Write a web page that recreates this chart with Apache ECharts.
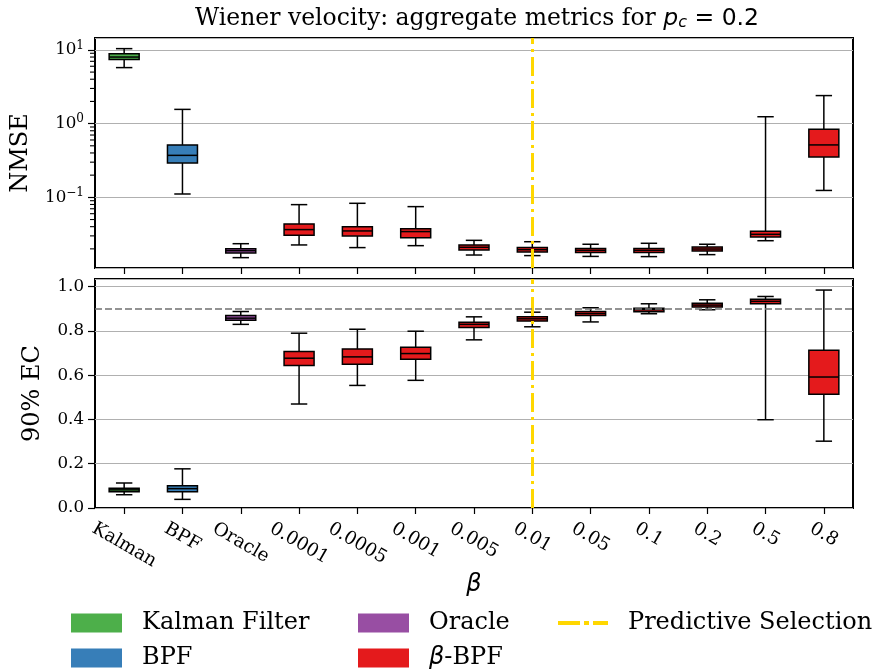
<!DOCTYPE html>
<html>
<head>
<meta charset="utf-8">
<script src="https://cdn.jsdelivr.net/npm/echarts@6/dist/echarts.min.js"></script>
<style>
  html, body { margin: 0; padding: 0; background: #fff; }
  #chart { width: 880px; height: 672px; }
</style>
</head>
<body>
<div id="chart"></div>
<script>
var categories = ['Kalman', 'BPF', 'Oracle', '0.0001', '0.0005', '0.001', '0.005', '0.01', '0.05', '0.1', '0.2', '0.5', '0.8'];
var groups = ['Kalman Filter', 'BPF', 'Oracle', '\u03b2-BPF'];
var groupColors = ['#4daf4a', '#377eb8', '#984ea3', '#e41a1c'];
// which group each category belongs to
var groupOfCategory = [0, 1, 2, 3, 3, 3, 3, 3, 3, 3, 3, 3, 3];

// [low whisker, q1, median, q3, high whisker]
var nmseBoxes = [
    [5.75, 7.4, 8.0, 8.9, 10.4],
    [0.111, 0.293, 0.371, 0.514, 1.56],
    [0.0152, 0.0176, 0.0189, 0.0201, 0.0235],
    [0.0226, 0.0305, 0.0365, 0.0436, 0.0796],
    [0.0208, 0.030, 0.035, 0.040, 0.083],
    [0.0221, 0.0284, 0.0343, 0.0376, 0.0748],
    [0.0165, 0.0193, 0.021, 0.0226, 0.0261],
    [0.0162, 0.0182, 0.0195, 0.0208, 0.025],
    [0.0158, 0.0178, 0.0191, 0.0203, 0.0231],
    [0.0157, 0.0179, 0.0191, 0.0203, 0.0238],
    [0.0167, 0.0187, 0.0199, 0.0212, 0.0231],
    [0.0258, 0.029, 0.0315, 0.0346, 1.24],
    [0.124, 0.353, 0.514, 0.837, 2.40]
];
var ecBoxes = [
    [0.060, 0.073, 0.082, 0.089, 0.113],
    [0.039, 0.074, 0.0875, 0.100, 0.177],
    [0.830, 0.848, 0.858, 0.870, 0.888],
    [0.470, 0.644, 0.677, 0.707, 0.790],
    [0.554, 0.650, 0.683, 0.719, 0.808],
    [0.577, 0.672, 0.698, 0.727, 0.799],
    [0.760, 0.816, 0.830, 0.840, 0.864],
    [0.819, 0.845, 0.855, 0.864, 0.885],
    [0.841, 0.870, 0.879, 0.888, 0.905],
    [0.878, 0.887, 0.896, 0.903, 0.923],
    [0.896, 0.908, 0.917, 0.925, 0.941],
    [0.399, 0.923, 0.934, 0.944, 0.956],
    [0.302, 0.514, 0.592, 0.713, 0.985]
];
var nmseMinorTicks = [0.02, 0.03, 0.04, 0.05, 0.06, 0.07, 0.08, 0.09, 0.2, 0.3, 0.4, 0.5, 0.6, 0.7, 0.8, 0.9, 2, 3, 4, 5, 6, 7, 8, 9];
var selectedBeta = '0.01';
var nominalCoverage = 0.9;

var SERIF = "'DejaVu Serif', serif";
var SANS = "'DejaVu Sans', sans-serif";
var TICK_FONT = 16.7;
var XTICK_FONT = 18.4;
var ROT = 30;

// matplotlib centres rotated labels under the tick; shift each label with padding
var measureCtx = document.createElement('canvas').getContext('2d');
measureCtx.font = XTICK_FONT + 'px ' + SERIF;
var xRich = {};
categories.forEach(function (c, i) {
    var w = measureCtx.measureText(c).width;
    var h = XTICK_FONT * 1.17;
    var t = ROT * Math.PI / 180;
    var H = w * Math.sin(t) + h * Math.cos(t);
    var d = 1 + H / 2;
    xRich['l' + i] = {
        fontFamily: SERIF, fontSize: XTICK_FONT, color: '#000',
        padding: [2 * d * Math.cos(t), 0, 0, 2 * d * Math.sin(t)]
    };
});

function renderBox(params, api) {
    var x = api.value(0);
    var pLow = api.coord([x, api.value(1)]);
    var pQ1 = api.coord([x, api.value(2)]);
    var pMed = api.coord([x, api.value(3)]);
    var pQ3 = api.coord([x, api.value(4)]);
    var pHigh = api.coord([x, api.value(5)]);
    var cx = pMed[0], bw = 30, cw = 8.2;
    var st = { stroke: '#000', lineWidth: 1.5 };
    return {
        type: 'group',
        children: [
            { type: 'line', shape: { x1: cx, y1: pQ1[1], x2: cx, y2: pLow[1] }, style: st },
            { type: 'line', shape: { x1: cx, y1: pQ3[1], x2: cx, y2: pHigh[1] }, style: st },
            { type: 'line', shape: { x1: cx - cw, y1: pLow[1], x2: cx + cw, y2: pLow[1] }, style: st },
            { type: 'line', shape: { x1: cx - cw, y1: pHigh[1], x2: cx + cw, y2: pHigh[1] }, style: st },
            { type: 'rect', shape: { x: cx - bw / 2, y: pQ3[1], width: bw, height: pQ1[1] - pQ3[1] },
              style: { fill: api.visual('color'), stroke: '#000', lineWidth: 1.5 } },
            { type: 'line', shape: { x1: cx - bw / 2, y1: pMed[1], x2: cx + bw / 2, y2: pMed[1] }, style: st }
        ]
    };
}

// minor log ticks on the left edge of the NMSE panel; x comes from the category band of the first box
function renderMinorTick(params, api) {
    var p = api.coord([0, api.value(1)]);
    var band = api.size([1, 0])[0];
    var x0 = p[0] - band / 2;
    return { type: 'line', shape: { x1: x0 - 5, y1: p[1], x2: x0 - 0.5, y2: p[1] },
             style: { stroke: '#000', lineWidth: 1.1 } };
}

var series = [];
groups.forEach(function (g, gi) {
    [nmseBoxes, ecBoxes].forEach(function (boxes, panel) {
        var data = [];
        for (var i = 0; i < categories.length; i++) {
            if (groupOfCategory[i] === gi) data.push([i].concat(boxes[i]));
        }
        series.push({
            type: 'custom',
            name: g,
            xAxisIndex: panel,
            yAxisIndex: panel,
            itemStyle: { color: groupColors[gi] },
            encode: { x: 0, y: [1, 2, 3, 4, 5] },
            renderItem: renderBox,
            data: data,
            z: 3
        });
    });
});

var selLine = { color: '#ffd700', width: 3, type: [19, 5, 3, 5] };
series.push({
    type: 'line', name: 'Predictive Selection', xAxisIndex: 0, yAxisIndex: 0, data: [],
    itemStyle: { color: '#ffd700' }, z: 2,
    markLine: { silent: true, symbol: 'none', label: { show: false }, lineStyle: selLine,
        data: [{ xAxis: selectedBeta }] }
});
series.push({
    type: 'line', name: 'Predictive Selection', xAxisIndex: 1, yAxisIndex: 1, data: [],
    itemStyle: { color: '#ffd700' }, z: 2,
    markLine: { silent: true, symbol: 'none', label: { show: false }, lineStyle: selLine,
        data: [
            { xAxis: selectedBeta },
            { yAxis: nominalCoverage, lineStyle: { color: '#707070', width: 1.5, type: [7, 3] } }
        ] }
});
series.push({
    type: 'custom', name: 'Kalman Filter', xAxisIndex: 0, yAxisIndex: 0, silent: true, clip: false,
    itemStyle: { color: groupColors[0] },
    encode: { x: 0, y: 1 },
    renderItem: renderMinorTick,
    data: nmseMinorTicks.map(function (v) { return [0, v]; }),
    z: 10
});

var legendText = {
    fontFamily: SERIF, fontSize: 24, color: '#000', lineHeight: 19, padding: [0, 0, 0, 15],
    rich: { b: { fontFamily: SANS, fontStyle: 'italic', fontSize: 24, lineHeight: 19 },
            n: { fontFamily: SERIF, fontSize: 24, lineHeight: 19 } }
};
function legendFmt(name) {
    if (name.charAt(0) === '\u03b2') return '{b|\u03b2}{n|' + name.slice(1) + '}';
    return name;
}

var chart = echarts.init(document.getElementById('chart'));
chart.setOption({
    backgroundColor: '#fff',
    animation: false,
    title: {
        text: '{n|Wiener velocity: aggregate metrics for }{m|p}{c|c}{r| = 0.2}',
        left: 472, top: 2, textAlign: 'center',
        textStyle: {
            fontWeight: 'normal',
            rich: {
                n: { fontFamily: SERIF, fontSize: 23.5, fontWeight: 'normal', color: '#000' },
                m: { fontFamily: SANS, fontStyle: 'italic', fontWeight: 'normal', fontSize: 23.5, color: '#000' },
                c: { fontFamily: SANS, fontStyle: 'italic', fontWeight: 'normal', fontSize: 16, color: '#000', padding: [7, 0, 0, 0] },
                r: { fontFamily: SANS, fontSize: 23.5, fontWeight: 'normal', color: '#000' }
            }
        }
    },
    legend: [
        { orient: 'vertical', left: 71, top: 611, height: 120, padding: 0, itemWidth: 51, itemHeight: 19, itemGap: 11,
          icon: 'rect', data: [groups[0], groups[1]], textStyle: legendText, formatter: legendFmt },
        { orient: 'vertical', left: 358, top: 611, height: 120, padding: 0, itemWidth: 51, itemHeight: 19, itemGap: 11,
          icon: 'rect', data: [groups[2], groups[3]], textStyle: legendText, formatter: legendFmt },
        { orient: 'vertical', left: 558, top: 611, height: 120, padding: 0, itemWidth: 50, itemHeight: 4,
          data: [{ name: 'Predictive Selection', icon: 'path://M0,0H22V4H0Z M26,0H31V4H26Z M35,0H50V4H35Z' }],
          textStyle: legendText }
    ],
    grid: [
        { left: 95, right: 27, top: 38, height: 230, show: true, borderColor: '#000', borderWidth: 2 },
        { left: 95, right: 27, top: 279, height: 229, show: true, borderColor: '#000', borderWidth: 2 }
    ],
    xAxis: [
        { type: 'category', gridIndex: 0, data: categories,
          axisLine: { show: false },
          axisTick: { show: true, alignWithLabel: true, length: 6, lineStyle: { color: '#000', width: 1.2 } },
          axisLabel: { show: false }, splitLine: { show: false } },
        { type: 'category', gridIndex: 1, data: categories,
          axisLine: { show: false },
          axisTick: { show: true, alignWithLabel: true, length: 6, lineStyle: { color: '#000', width: 1.2 } },
          axisLabel: {
              interval: 0, rotate: -ROT, align: 'center', verticalAlign: 'middle', margin: 9,
              hideOverlap: false,
              formatter: function (v, i) { return '{l' + i + '|' + v + '}'; },
              rich: xRich
          },
          name: '\u03b2', nameLocation: 'middle', nameGap: 60,
          nameTextStyle: { fontFamily: SANS, fontStyle: 'italic', fontSize: 24, color: '#000' },
          splitLine: { show: false } }
    ],
    yAxis: [
        { type: 'log', gridIndex: 0, logBase: 10, min: 0.011, max: 14.5,
          axisLine: { show: false },
          axisTick: { show: true, length: 7, lineStyle: { color: '#000', width: 1.2 } },
          axisLabel: {
              margin: 11, showMinLabel: false, showMaxLabel: false,
              formatter: function (v) {
                  var e = Math.round(Math.log10(v));
                  return '{b|10}{s|' + (e < 0 ? '\u2212' + (-e) : e) + '}';
              },
              rich: {
                  b: { fontFamily: SERIF, fontSize: TICK_FONT, color: '#000' },
                  s: { fontFamily: SERIF, fontSize: 12, color: '#000', padding: [0, 0, 9, 0] }
              }
          },
          splitLine: { show: true, lineStyle: { color: '#b0b0b0', width: 1.1 } },
          name: 'NMSE', nameLocation: 'middle', nameGap: 62,
          nameTextStyle: { fontFamily: SERIF, fontSize: 24, color: '#000' } },
        { type: 'value', gridIndex: 1, min: 0, max: 1.035, interval: 0.2,
          axisLine: { show: false },
          axisTick: { show: true, length: 7, lineStyle: { color: '#000', width: 1.2 } },
          axisLabel: {
              margin: 11, showMaxLabel: false,
              fontFamily: SERIF, fontSize: TICK_FONT, color: '#000',
              formatter: function (v) { return v.toFixed(1); }
          },
          splitLine: { show: true, lineStyle: { color: '#b0b0b0', width: 1.1 } },
          name: '90% EC', nameLocation: 'middle', nameGap: 50,
          nameTextStyle: { fontFamily: SERIF, fontSize: 24, color: '#000' } }
    ],
    series: series
});
</script>
</body>
</html>
